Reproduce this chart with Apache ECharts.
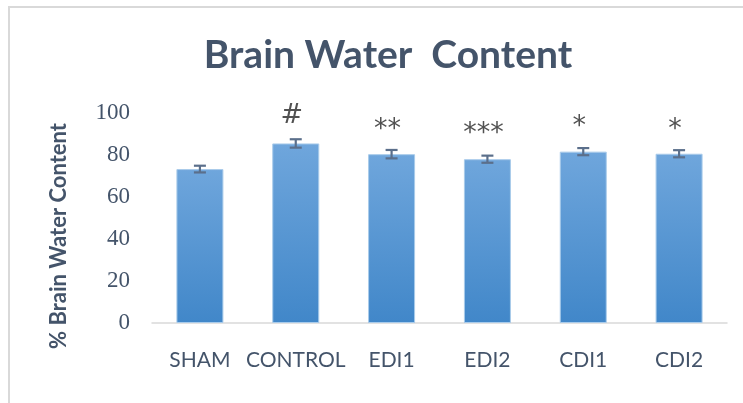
<!DOCTYPE html>
<html><head><meta charset="utf-8">
<script src="https://cdn.jsdelivr.net/npm/echarts@6/dist/echarts.min.js"></script>
<style>html,body{margin:0;padding:0;background:#fff}#c{width:743px;height:403px}</style>
</head><body><div id="c"></div>
<script>
var categories = ['SHAM', 'CONTROL', 'EDI1', 'EDI2', 'CDI1', 'CDI2'];
var values = [73.3, 85.5, 80.4, 78.0, 81.6, 80.6];
var errors = [1.6, 2.0, 2.0, 1.7, 1.7, 1.7];
var marks = ['', '#', '**', '***', '*', '*'];
var markY = [null, 101.5, 95.0, 93.0, 96.0, 95.0];
var yTicks = [0, 20, 40, 60, 80, 100];

var slate = '#44546A';
var chart = echarts.init(document.getElementById('c'));
chart.setOption({
  animation: false,
  backgroundColor: '#fff',
  title: {
    text: 'Brain Water  Content', left: 383, textAlign: 'center', top: 31,
    textStyle: { fontFamily: 'Lato', fontWeight: 'bold', fontSize: 39, color: slate }
  },
  grid: { left: 152, right: 16, top: 113, bottom: 80 },
  xAxis: {
    type: 'category', data: categories,
    axisLine: { lineStyle: { color: '#D9D9D9', width: 1.5 } },
    axisTick: { show: false },
    axisLabel: { interval: 0, margin: 27, fontFamily: 'Lato', fontSize: 21, color: slate }
  },
  yAxis: {
    type: 'value', min: 0, max: 100, interval: 20,
    axisLine: { show: false }, axisTick: { show: false },
    splitLine: { show: false },
    axisLabel: { margin: 22, fontFamily: 'Liberation Serif', fontSize: 23, color: slate,
      formatter: function (v) { return yTicks.indexOf(v) >= 0 ? String(v) : ''; } }
  },
  graphic: [
    { type: 'rect', shape: { x: 9, y: 7, width: 800, height: 500 },
      style: { fill: 'none', stroke: '#D9D9D9', lineWidth: 2 }, silent: true, z: -1 },
    { type: 'text', x: 59, y: 236, rotation: Math.PI / 2,
      style: { text: '% Brain Water Content', fontFamily: 'Lato', fontWeight: 'bold', fontSize: 22,
        fill: slate, align: 'center', verticalAlign: 'middle' } }
  ],
  series: [
    {
      type: 'bar', data: values, barWidth: 47,
      itemStyle: {
        borderColor: '#A9CBEA', borderWidth: 1,
        color: new echarts.graphic.LinearGradient(0, 0, 0, 1, [
          { offset: 0, color: '#6FA6DC' }, { offset: 1, color: '#4187C9' }
        ])
      }
    },
    {
      type: 'custom',
      data: values.map(function (v, i) { return [i, v - errors[i], v + errors[i]]; }),
      renderItem: function (params, api) {
        var lo = api.coord([api.value(0), api.value(1)]);
        var hi = api.coord([api.value(0), api.value(2)]);
        var w = 6;
        var st = { stroke: '#5B6F8B', lineWidth: 2.2 };
        return { type: 'group', children: [
          { type: 'line', shape: { x1: lo[0], y1: lo[1], x2: hi[0], y2: hi[1] }, style: st },
          { type: 'line', shape: { x1: lo[0] - w, y1: lo[1], x2: lo[0] + w, y2: lo[1] }, style: st },
          { type: 'line', shape: { x1: hi[0] - w, y1: hi[1], x2: hi[0] + w, y2: hi[1] }, style: st }
        ] };
      },
      z: 5
    },
    {
      type: 'scatter', symbolSize: 0, clip: false,
      data: markY.map(function (y, i) { return y == null ? null : { value: [i, y], label: { formatter: marks[i] } }; }),
      label: { show: true, position: 'inside', fontFamily: 'DejaVu Sans', fontSize: 27, color: '#262626' },
      labelLayout: { hideOverlap: false, dx: -4, dy: 6 },
      z: 6
    }
  ]
});
</script></body></html>
